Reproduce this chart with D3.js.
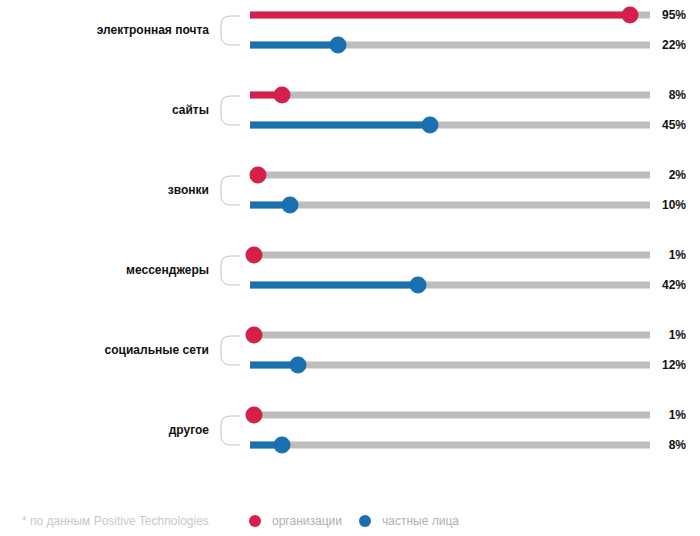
<!DOCTYPE html>
<html>
<head>
<meta charset="utf-8">
<script src="https://cdn.jsdelivr.net/npm/d3@7"></script>
<style>
  body { margin: 0; background: #fff; font-family: Arial, "Liberation Sans", sans-serif; }
</style>
</head>
<body>
<div id="chart"></div>
<script>
const categories = ["электронная почта", "сайты", "звонки", "мессенджеры", "социальные сети", "другое"]
const orgValues = [95, 8, 2, 1, 1, 1]
const personValues = [22, 45, 10, 42, 12, 8]
const seriesNames = ["организации", "частные лица"]
const seriesColors = ["#d5204b", "#1a6fae"]
const note = "* по данным Positive Technologies"

const width = 700, height = 536

const svg = d3.select("#chart")
  .append("svg")
  .attr("width", width)
  .attr("height", height)

const x = d3.scaleLinear().domain([0, 100]).range([250, 650])
const y = d3.scaleBand().domain(categories).range([0, 480])
const rowOffset = [15, 45]

const series = [orgValues, personValues]

const groups = svg.selectAll(".group")
  .data(categories)
  .enter()
  .append("g")
  .attr("class", "group")
  .attr("transform", d => "translate(0," + y(d) + ")")

groups.append("text")
  .attr("x", 209)
  .attr("y", 30)
  .attr("dy", "0.35em")
  .attr("text-anchor", "end")
  .style("font-size", "12px")
  .style("font-weight", "bold")
  .style("fill", "#111")
  .text(d => d)

// bracket
groups.append("path")
  .attr("d", "M240," + (rowOffset[0] + 1) + " H230 Q221," + (rowOffset[0] + 1) + " 221," + (rowOffset[0] + 10)
    + " V" + (rowOffset[1] - 10) + " Q221," + rowOffset[1] + " 230," + rowOffset[1] + " H240")
  .attr("fill", "none")
  .attr("stroke", "#c4c4c4")
  .attr("stroke-width", 1)

series.forEach((vals, s) => {
  const yy = rowOffset[s]
  groups.append("line")
    .attr("x1", x(0)).attr("x2", x(100))
    .attr("y1", yy).attr("y2", yy)
    .attr("stroke", "#bdbdbd")
    .attr("stroke-width", 7)

  groups.append("line")
    .attr("x1", x(0)).attr("x2", (d, i) => x(vals[i]))
    .attr("y1", yy).attr("y2", yy)
    .attr("stroke", seriesColors[s])
    .attr("stroke-width", 7)

  groups.append("circle")
    .attr("cx", (d, i) => x(vals[i]))
    .attr("cy", yy)
    .attr("r", 8.5)
    .attr("fill", seriesColors[s])

  groups.append("text")
    .attr("x", 686)
    .attr("y", yy)
    .attr("dy", "0.35em")
    .attr("text-anchor", "end")
    .style("font-size", "12px")
    .style("font-weight", "bold")
    .style("fill", "#111")
    .text((d, i) => vals[i] + "%")
})

// footer
svg.append("text")
  .attr("x", 22).attr("y", 521)
  .attr("dy", "0.35em")
  .style("font-size", "12px")
  .style("fill", "#c8c8c8")
  .text(note)

const legendX = [255, 365]
seriesNames.forEach((name, i) => {
  svg.append("circle")
    .attr("cx", legendX[i]).attr("cy", 521)
    .attr("r", 6)
    .attr("fill", seriesColors[i])
  svg.append("text")
    .attr("x", legendX[i] + 17).attr("y", 521)
    .attr("dy", "0.35em")
    .style("font-size", "12px")
    .style("fill", "#b0b0b0")
    .text(name)
})
</script>
</body>
</html>
